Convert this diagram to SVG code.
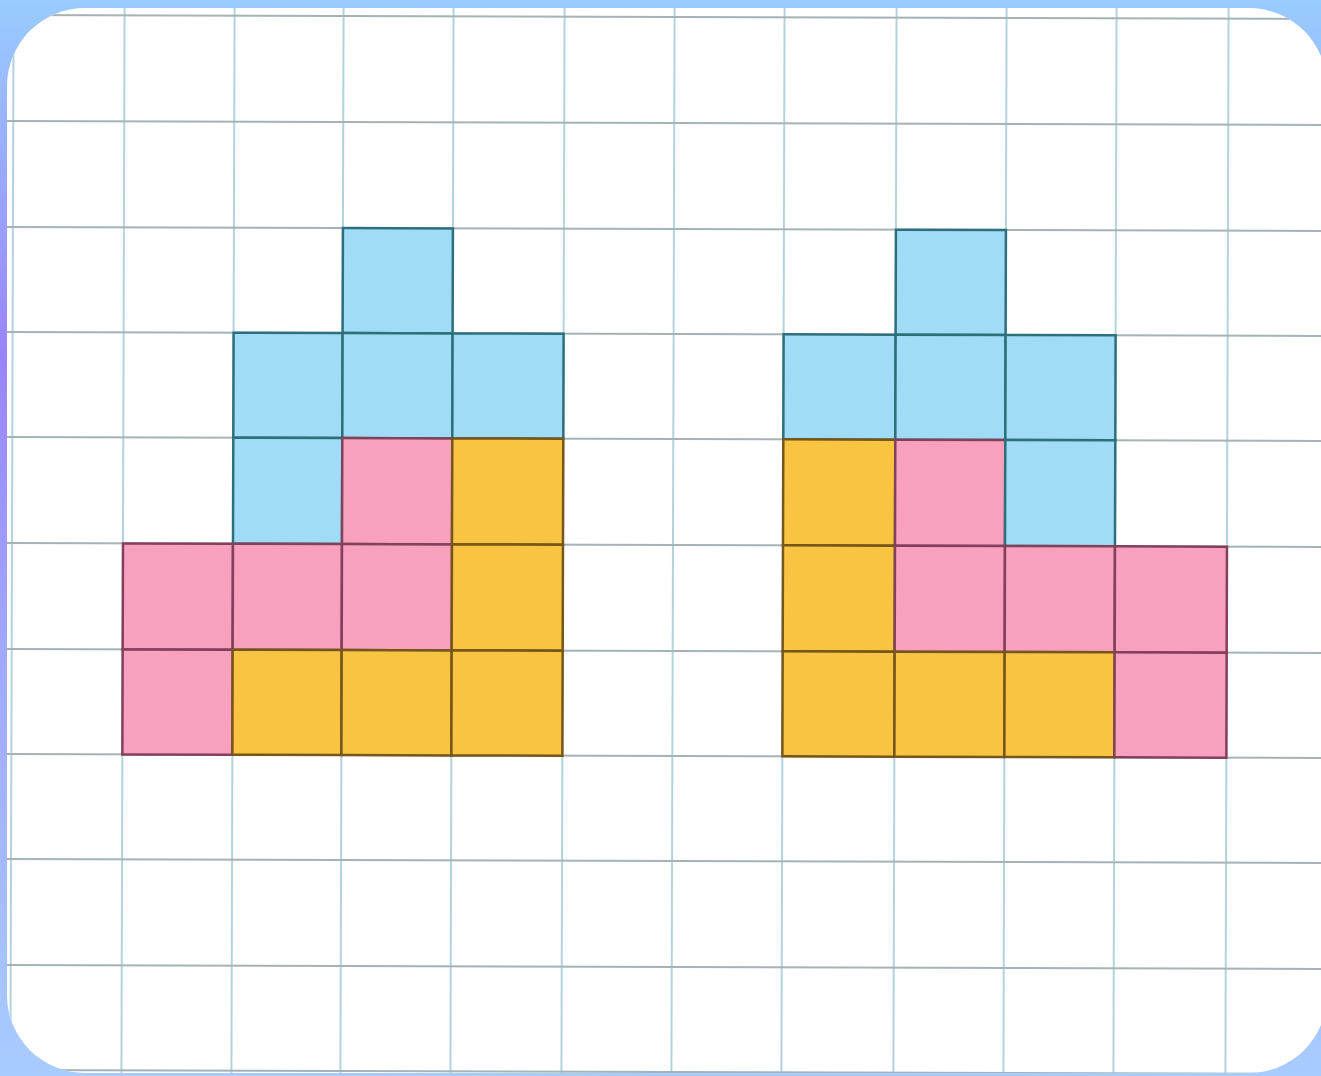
<svg xmlns="http://www.w3.org/2000/svg" width="1321" height="1076" viewBox="0 0 1321 1076">
  <defs>
    <linearGradient id="bg" x1="0" y1="0" x2="0" y2="1">
      <stop offset="0" stop-color="#99ccff"/>
      <stop offset="0.33" stop-color="#9a84fe"/>
      <stop offset="0.6" stop-color="#a0a8ff"/>
      <stop offset="1" stop-color="#a8ccff"/>
    </linearGradient>
    <clipPath id="card">
      <rect x="7" y="8" width="1320" height="1065" rx="78" ry="78"/>
    </clipPath>
    <style>
      .vl { stroke: #b2d3de; stroke-width: 2; }
      .hl { stroke: #a7b2b5; stroke-width: 2; }
      .b { fill: #a0dcf5; stroke: #2e6f7e; stroke-width: 2.5; }
      .p { fill: #f7a1be; stroke: #84405a; stroke-width: 2.5; }
      .o { fill: #fac443; stroke: #76561a; stroke-width: 2.5; }
    </style>
  </defs>
  <rect x="0" y="0" width="1321" height="1076" fill="url(#bg)"/>
  <rect x="7" y="8" width="1320" height="1065" rx="78" ry="78" fill="#ffffff"/>
  <g clip-path="url(#card)">
    <g transform="rotate(0.17 660 540)">
      <g id="grid">
        <line class="vl" x1="12" y1="0" x2="12" y2="1080"/>
        <line class="vl" x1="123" y1="0" x2="123" y2="1080"/>
        <line class="vl" x1="233" y1="0" x2="233" y2="1080"/>
        <line class="vl" x1="342" y1="0" x2="342" y2="1080"/>
        <line class="vl" x1="452" y1="0" x2="452" y2="1080"/>
        <line class="vl" x1="563" y1="0" x2="563" y2="1080"/>
        <line class="vl" x1="673" y1="0" x2="673" y2="1080"/>
        <line class="vl" x1="783" y1="0" x2="783" y2="1080"/>
        <line class="vl" x1="895" y1="0" x2="895" y2="1080"/>
        <line class="vl" x1="1005" y1="0" x2="1005" y2="1080"/>
        <line class="vl" x1="1115" y1="0" x2="1115" y2="1080"/>
        <line class="vl" x1="1227" y1="0" x2="1227" y2="1080"/>
        <line class="hl" x1="0" y1="17" x2="1330" y2="17"/>
        <line class="hl" x1="0" y1="123" x2="1330" y2="123"/>
        <line class="hl" x1="0" y1="229" x2="1330" y2="229"/>
        <line class="hl" x1="0" y1="334" x2="1330" y2="334"/>
        <line class="hl" x1="0" y1="439" x2="1330" y2="439"/>
        <line class="hl" x1="0" y1="545" x2="1330" y2="545"/>
        <line class="hl" x1="0" y1="651" x2="1330" y2="651"/>
        <line class="hl" x1="0" y1="756" x2="1330" y2="756"/>
        <line class="hl" x1="0" y1="861" x2="1330" y2="861"/>
        <line class="hl" x1="0" y1="967" x2="1330" y2="967"/>
        <line class="hl" x1="0" y1="1072" x2="1330" y2="1072"/>
      </g>
      <g id="figure-left">
        <rect class="b" x="342" y="229" width="110" height="105"/>
        <rect class="b" x="233" y="334" width="109" height="105"/>
        <rect class="b" x="342" y="334" width="110" height="105"/>
        <rect class="b" x="452" y="334" width="111" height="105"/>
        <rect class="b" x="233" y="439" width="109" height="106"/>
        <rect class="p" x="342" y="439" width="110" height="106"/>
        <rect class="o" x="452" y="439" width="111" height="106"/>
        <rect class="p" x="123" y="545" width="110" height="106"/>
        <rect class="p" x="233" y="545" width="109" height="106"/>
        <rect class="p" x="342" y="545" width="110" height="106"/>
        <rect class="o" x="452" y="545" width="111" height="106"/>
        <rect class="p" x="123" y="651" width="110" height="105"/>
        <rect class="o" x="233" y="651" width="109" height="105"/>
        <rect class="o" x="342" y="651" width="110" height="105"/>
        <rect class="o" x="452" y="651" width="111" height="105"/>
      </g>
      <g id="figure-right">
        <rect class="b" x="895" y="229" width="110" height="105"/>
        <rect class="b" x="783" y="334" width="112" height="105"/>
        <rect class="b" x="895" y="334" width="110" height="105"/>
        <rect class="b" x="1005" y="334" width="110" height="105"/>
        <rect class="o" x="783" y="439" width="112" height="106"/>
        <rect class="p" x="895" y="439" width="110" height="106"/>
        <rect class="b" x="1005" y="439" width="110" height="106"/>
        <rect class="o" x="783" y="545" width="112" height="106"/>
        <rect class="p" x="895" y="545" width="110" height="106"/>
        <rect class="p" x="1005" y="545" width="110" height="106"/>
        <rect class="p" x="1115" y="545" width="112" height="106"/>
        <rect class="o" x="783" y="651" width="112" height="105"/>
        <rect class="o" x="895" y="651" width="110" height="105"/>
        <rect class="o" x="1005" y="651" width="110" height="105"/>
        <rect class="p" x="1115" y="651" width="112" height="105"/>
      </g>
    </g>
  </g>
</svg>
